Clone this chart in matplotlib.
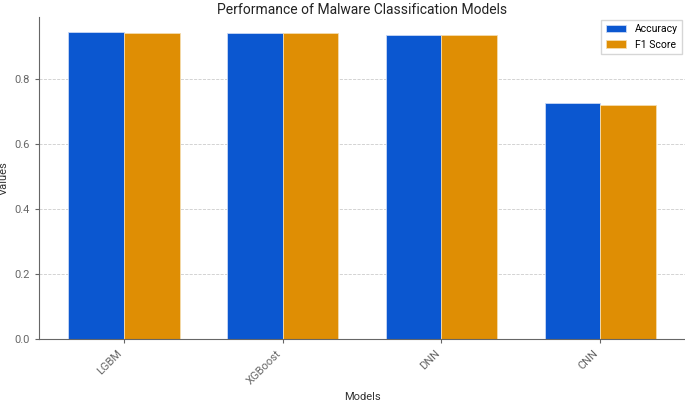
import matplotlib
matplotlib.use('Agg')
import matplotlib.pyplot as plt
import numpy as np

plt.rcParams['font.family'] = ['Roboto', 'DejaVu Sans']

# data
models = ['LGBM', 'XGBoost', 'DNN', 'CNN']
accuracy = [0.944, 0.942, 0.937, 0.726]
f1_score = [0.943, 0.941, 0.936, 0.719]

bar_width = 0.35
x = np.arange(len(models))

fig = plt.figure(figsize=(6.85, 4.0), dpi=100)
ax = fig.add_axes([0.057, 0.1525, 0.943, 0.805])

ax.bar(x - bar_width / 2, accuracy, bar_width, label='Accuracy',
       color='#0b57d0', edgecolor='#c9d8f5', linewidth=0.6)
ax.bar(x + bar_width / 2, f1_score, bar_width, label='F1 Score',
       color='#df8e04', edgecolor='#f5dcae', linewidth=0.6)

ax.set_title('Performance of Malware Classification Models', fontsize=10, color='#222222', pad=1.5)
ax.set_xlabel('Models', fontsize=8, color='#333333')
ax.set_ylabel('Values', fontsize=8, color='#333333')
ax.set_xticks(x)
ax.set_xticklabels(models, rotation=45, ha='right', fontsize=8, color='#333333')
ax.tick_params(axis='y', labelsize=8, labelcolor='#333333')
ax.tick_params(colors='#666666', length=3)

ax.yaxis.grid(True, linestyle='--', linewidth=0.6, color='#cccccc')
ax.set_axisbelow(True)
for side in ('top', 'right'):
    ax.spines[side].set_visible(False)
for side in ('left', 'bottom'):
    ax.spines[side].set_color('#666666')

ax.legend(loc='upper right', fontsize=7.5, frameon=True, fancybox=False,
          edgecolor='#cccccc', borderaxespad=0.3)

fig.savefig('out.png', dpi=100)
